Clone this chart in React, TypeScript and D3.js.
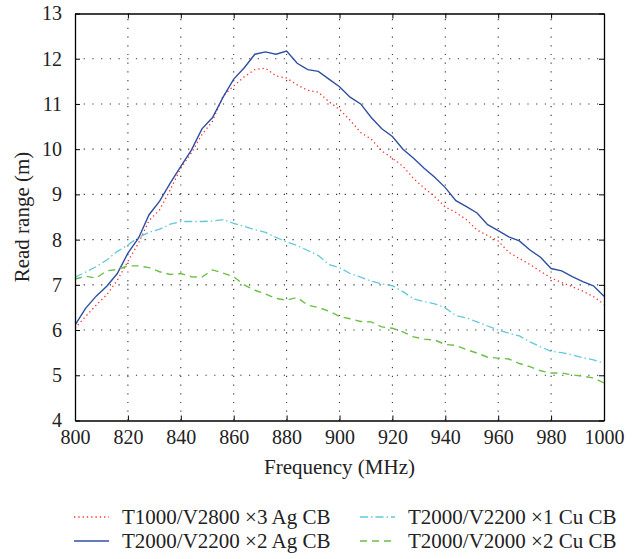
import React, { useEffect, useRef } from "react";
import * as d3 from "d3";

// frequency grid (MHz), 4 MHz steps
const freqs: number[] = d3.range(800, 1001, 4);

const agX3: number[] = [
  6.04, 6.3, 6.55, 6.78, 7.1, 7.52, 7.92, 8.42, 8.66, 9.1, 9.58, 9.92, 10.32,
  10.62, 11.18, 11.4, 11.6, 11.76, 11.79, 11.62, 11.57, 11.42, 11.3, 11.26,
  11.05, 10.88, 10.64, 10.37, 10.22, 9.96, 9.8, 9.62, 9.35, 9.14, 8.95, 8.72,
  8.6, 8.44, 8.21, 8.09, 7.97, 7.72, 7.58, 7.45, 7.3, 7.15, 7.05, 6.96, 6.86,
  6.74, 6.57,
];
const agX2: number[] = [
  6.11, 6.48, 6.75, 6.97, 7.25, 7.7, 8.03, 8.55, 8.85, 9.25, 9.62, 9.98,
  10.45, 10.7, 11.15, 11.55, 11.8, 12.1, 12.15, 12.1, 12.17, 11.9, 11.76,
  11.72, 11.55, 11.38, 11.15, 11.0, 10.7, 10.45, 10.28, 10.0, 9.8, 9.58, 9.38,
  9.15, 8.86, 8.73, 8.59, 8.33, 8.2, 8.06, 7.97, 7.77, 7.61, 7.36, 7.31, 7.18,
  7.07, 6.98, 6.75,
];
const cuX1: number[] = [
  7.17, 7.28, 7.4, 7.55, 7.74, 7.88, 8.05, 8.16, 8.23, 8.34, 8.4, 8.4, 8.4,
  8.41, 8.44, 8.36, 8.29, 8.22, 8.16, 8.05, 7.95, 7.87, 7.76, 7.65, 7.45,
  7.38, 7.25, 7.17, 7.08, 7.02, 6.98, 6.85, 6.69, 6.63, 6.58, 6.49, 6.32,
  6.27, 6.18, 6.09, 6.0, 5.93, 5.87, 5.74, 5.63, 5.53, 5.5, 5.45, 5.39, 5.34,
  5.27,
];
const cuX2: number[] = [
  7.13, 7.19, 7.15, 7.31, 7.34, 7.42, 7.42, 7.38, 7.29, 7.23, 7.25, 7.18,
  7.17, 7.33, 7.26, 7.18, 7.0, 6.88, 6.8, 6.7, 6.66, 6.72, 6.55, 6.5, 6.42,
  6.3, 6.25, 6.19, 6.18, 6.07, 6.04, 5.96, 5.85, 5.8, 5.78, 5.68, 5.66, 5.57,
  5.49, 5.4, 5.38, 5.36, 5.26, 5.19, 5.1, 5.05, 5.05, 5.01, 4.98, 4.94, 4.83,
];

const xTicks: number[] = d3.range(800, 1001, 20);
const yTicks: number[] = d3.range(4, 14, 1);

const series = [
  { name: "T1000/V2800 ×3 Ag CB", values: agX3, color: "#ff2a2a", dash: "1.3,3", width: 1.3 },
  { name: "T2000/V2200 ×2 Ag CB", values: agX2, color: "#2f4fa3", dash: "none", width: 1.4 },
  { name: "T2000/V2200 ×1 Cu CB", values: cuX1, color: "#62c8de", dash: "8,3,1.5,3", width: 1.3 },
  { name: "T2000/V2000 ×2 Cu CB", values: cuX2, color: "#6cbf45", dash: "7,5", width: 1.4 },
];
// legend layout: column, row
const legendSlots = [
  [0, 0],
  [0, 1],
  [1, 0],
  [1, 1],
];

const width = 642;
const height = 559;
const margin = { top: 13.5, right: 38, bottom: 138.5, left: 75 };
const font = "'Liberation Serif', 'DejaVu Serif', serif";

export default function App() {
  const ref = useRef<SVGSVGElement>(null);

  useEffect(() => {
    const svg = d3.select(ref.current);
    svg.selectAll("*").remove();

    const x = d3
      .scaleLinear()
      .domain([800, 1000])
      .range([margin.left, width - margin.right]);
    const y = d3
      .scaleLinear()
      .domain([4, 13])
      .range([height - margin.bottom, margin.top]);

    const [x0, x1] = x.range();
    const [y0, y1] = y.range();

    // dotted grid
    const grid = svg.append("g").attr("stroke", "#333").attr("stroke-width", 1.1).attr("stroke-dasharray", "1.2,7.5");
    grid
      .selectAll("line.v")
      .data(xTicks.slice(1, -1))
      .join("line")
      .attr("x1", (d) => x(d))
      .attr("x2", (d) => x(d))
      .attr("y1", y0)
      .attr("y2", y1);
    grid
      .selectAll("line.h")
      .data(yTicks.slice(1, -1))
      .join("line")
      .attr("class", "h")
      .attr("x1", x0)
      .attr("x2", x1)
      .attr("y1", (d) => y(d))
      .attr("y2", (d) => y(d));

    svg
      .append("clipPath")
      .attr("id", "plot-clip")
      .append("rect")
      .attr("x", x0)
      .attr("y", y1)
      .attr("width", x1 - x0)
      .attr("height", y0 - y1);

    const line = d3
      .line<number>()
      .x((_, i) => x(freqs[i]))
      .y((d) => y(d));

    svg
      .append("g")
      .attr("clip-path", "url(#plot-clip)")
      .selectAll("path")
      .data(series)
      .join("path")
      .attr("fill", "none")
      .attr("stroke", (d) => d.color)
      .attr("stroke-width", (d) => d.width)
      .attr("stroke-dasharray", (d) => d.dash)
      .attr("d", (d) => line(d.values));

    // axes: box with inward ticks
    const tickLen = 5;
    const bottom = svg
      .append("g")
      .attr("transform", `translate(0,${y0})`)
      .call(d3.axisBottom(x).tickValues(xTicks).tickSizeInner(-tickLen).tickSizeOuter(0).tickPadding(9).tickFormat(d3.format("d")));
    const top = svg
      .append("g")
      .attr("transform", `translate(0,${y1})`)
      .call(d3.axisTop(x).tickValues(xTicks).tickSizeInner(-tickLen).tickSizeOuter(0).tickFormat(() => ""));
    const left = svg
      .append("g")
      .attr("transform", `translate(${x0},0)`)
      .call(d3.axisLeft(y).tickValues(yTicks).tickSizeInner(-tickLen).tickSizeOuter(0).tickPadding(13).tickFormat(d3.format("d")));
    const right = svg
      .append("g")
      .attr("transform", `translate(${x1},0)`)
      .call(d3.axisRight(y).tickValues(yTicks).tickSizeInner(-tickLen).tickSizeOuter(0).tickFormat(() => ""));

    [bottom, top, left, right].forEach((g) => {
      g.select(".domain").attr("stroke", "#000").attr("stroke-width", 1.3);
      g.selectAll(".tick line").attr("stroke", "#000").attr("stroke-width", 1);
      g.selectAll(".tick text")
        .attr("fill", "#222")
        .attr("font-family", font)
        .attr("font-size", 20);
    });

    // axis titles
    svg
      .append("text")
      .attr("x", (x0 + x1) / 2)
      .attr("y", 474)
      .attr("text-anchor", "middle")
      .attr("font-family", font)
      .attr("font-size", 21)
      .attr("fill", "#222")
      .text("Frequency (MHz)");
    svg
      .append("text")
      .attr("transform", `translate(29,${(y0 + y1) / 2}) rotate(-90)`)
      .attr("text-anchor", "middle")
      .attr("font-family", font)
      .attr("font-size", 21)
      .attr("fill", "#222")
      .text("Read range (m)");

    // legend
    const legend = svg
      .append("g")
      .selectAll("g")
      .data(series)
      .join("g")
      .attr("transform", (_, i) => `translate(${legendSlots[i][0] === 0 ? 74 : 360},${517 + legendSlots[i][1] * 24})`);
    legend
      .append("line")
      .attr("x1", 0)
      .attr("x2", 35)
      .attr("stroke", (d) => d.color)
      .attr("stroke-width", (d) => d.width)
      .attr("stroke-dasharray", (d) => d.dash);
    legend
      .append("text")
      .attr("x", 48)
      .attr("dy", "0.35em")
      .attr("font-family", font)
      .attr("font-size", 21)
      .attr("fill", "#222")
      .text((d) => d.name);
  }, []);

  return (
    <svg
      ref={ref}
      width={width}
      height={height}
      style={{ position: "absolute", left: 0, top: 0, background: "#fff" }}
    />
  );
}
